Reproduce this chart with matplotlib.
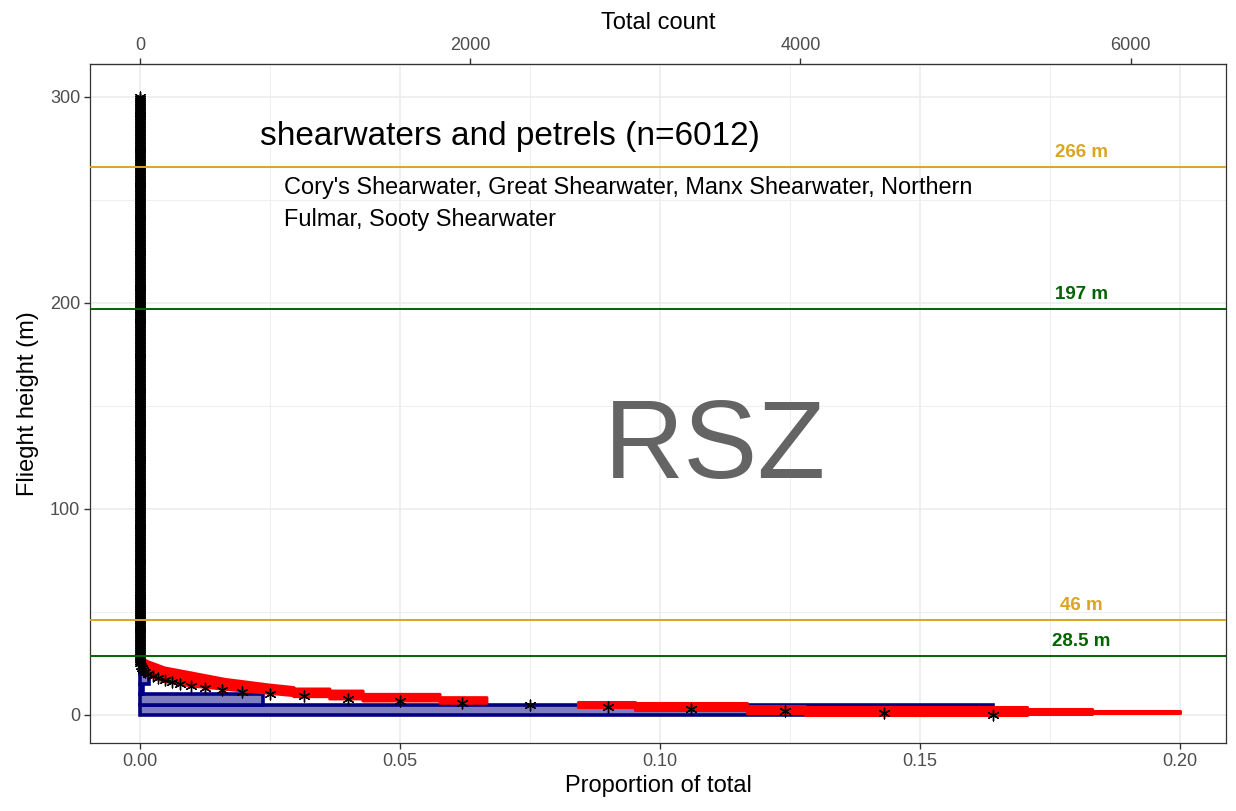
import numpy as np
import matplotlib
matplotlib.use("Agg")
import matplotlib.pyplot as plt

plt.rcParams['font.family'] = ['Liberation Sans', 'DejaVu Sans']

# --- data ---
# observed proportions, 5 m height bins
bin_lower = [0, 5, 10, 15, 20]
bin_prop = [0.164, 0.0237, 0.0005, 0.0018, 0.0008]

# modelled proportion per metre (stars), heights 0..30; above that ~0 up to 300 m
star_prop_low = [0.164, 0.143, 0.124, 0.106, 0.090, 0.075, 0.062, 0.050, 0.040,
                 0.0315, 0.025, 0.0197, 0.0157, 0.0125, 0.0098, 0.0077, 0.0061,
                 0.0048, 0.0035, 0.0025, 0.0015, 0.0010, 0.0006, 0.0004, 0.0002,
                 0.0001, 0.0, 0.0, 0.0, 0.0, 0.0]
star_prop_high = [0.0] * 270

# bootstrap envelope (red): proportion, upper and lower height
boot_prop = [0.000, 0.0015, 0.0048, 0.0099, 0.0163, 0.0250, 0.0296,
             0.0296, 0.0365, 0.0365, 0.0429, 0.0429, 0.0577, 0.0577, 0.0667,
             0.0667, 0.0842,
             0.0842, 0.0952, 0.0952, 0.1167, 0.1167, 0.1279, 0.1279, 0.1706,
             0.1706, 0.1830, 0.1830, 0.2000]
boot_hi = [28.0, 25.9, 22.8, 20.4, 17.3, 14.5, 13.3,
           12.6, 12.6, 11.6, 11.6, 10.0, 10.0, 8.4, 8.4,
           np.nan, np.nan,
           6.5, 6.5, 5.6, 5.6, 4.6, 4.6, 3.7, 3.7,
           2.8, 2.8, 2.0, 2.0]
boot_lo = [25.0, 19.4, 16.2, 14.1, 12.5, 10.5, 9.4,
           8.9, 8.9, 7.8, 7.8, 6.8, 6.8, 5.7, 5.7,
           np.nan, np.nan,
           4.0, 4.0, 2.6, 2.6, 1.0, 1.0, 0.0, 0.0,
           0.5, 0.5, 0.8, 0.8]

# reference heights
ref_heights = [266, 46, 197, 28.5]
ref_labels = ['266 m', '46 m', '197 m', '28.5 m']
ref_colors = ['#DAA520', '#DAA520', '#006400', '#006400']

count_per_prop = 31500

star_prop = star_prop_low + star_prop_high
star_h = np.arange(len(star_prop))

fig = plt.figure(figsize=(12.36, 8.11), dpi=100)
ax = fig.add_axes([90 / 1236, 68 / 811, 1136 / 1236, 679 / 811])

# histogram bars
ax.barh(bin_lower, bin_prop, height=5, align='edge', color='#7F7FBF',
        edgecolor='#000080', linewidth=2.6, zorder=2)

# bootstrap envelope
ax.fill_between(boot_prop, boot_lo, boot_hi, color='red', edgecolor='red',
                linewidth=2.2, zorder=3)

# modelled values
ax.scatter(star_prop, star_h, marker=(6, 2, 0), s=60, color='black',
           linewidths=1.0, zorder=4)

for h, lab, c in zip(ref_heights, ref_labels, ref_colors):
    ax.axhline(h, color=c, linewidth=1.4, zorder=5)
    ax.text(0.181, h + 7, lab, color=c, fontsize=13.5, fontweight='bold',
            ha='center', va='center', zorder=6)

ax.text(0.0231, 281, 'shearwaters and petrels (n=6012)', fontsize=24,
        ha='left', va='center')
ax.text(0.0277, 248.3, "Cory's Shearwater, Great Shearwater, Manx Shearwater, Northern\n"
        "Fulmar, Sooty Shearwater", fontsize=16.9, ha='left', va='center',
        linespacing=1.55)
ax.text(0.1106, 129, 'RSZ', fontsize=80, color='#646464', ha='center', va='center')

ax.set_xlim(-0.0096, 0.2088)
ax.set_ylim(-13.6, 316)
ax.set_xticks([0, 0.05, 0.10, 0.15, 0.20])
ax.set_xticklabels(['0.00', '0.05', '0.10', '0.15', '0.20'])
ax.set_yticks([0, 100, 200, 300])
ax.set_xticks([0.025, 0.075, 0.125, 0.175], minor=True)
ax.set_yticks([50, 150, 250], minor=True)
ax.grid(True, which='major', color='#EBEBEB', linewidth=1.1, zorder=0)
ax.grid(True, which='minor', color='#EBEBEB', linewidth=0.6, zorder=0)
ax.set_axisbelow(True)
ax.tick_params(which='minor', length=0)
ax.tick_params(which='major', length=4, width=1, color='#333333',
               labelsize=13, labelcolor='#4D4D4D', pad=3)
for s in ax.spines.values():
    s.set_color('#333333')
    s.set_linewidth(0.9)

ax.set_xlabel('Proportion of total', fontsize=17, labelpad=4)
ax.set_ylabel('Flieght height (m)', fontsize=17, labelpad=8)

sec = ax.secondary_xaxis('top', functions=(lambda p: p * count_per_prop,
                                           lambda c: c / count_per_prop))
sec.set_xticks([0, 2000, 4000, 6000])
sec.tick_params(length=4, width=1, color='#333333', labelsize=13,
                labelcolor='#4D4D4D', pad=3)
sec.set_xlabel('Total count', fontsize=17, labelpad=6)

fig.savefig('out.png', dpi=100)
